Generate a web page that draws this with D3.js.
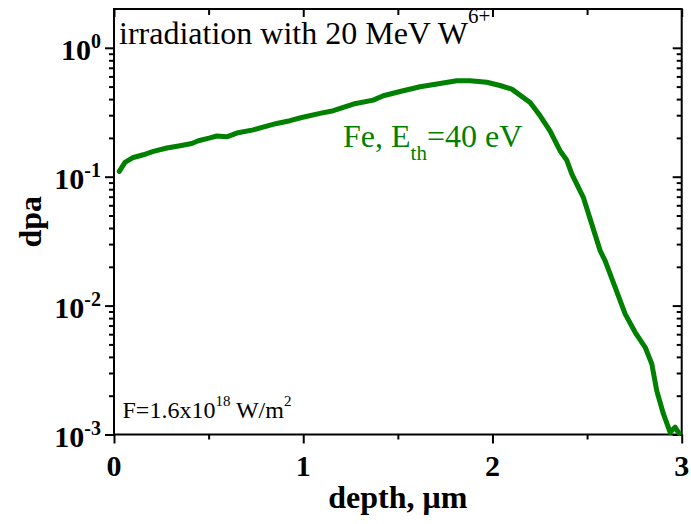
<!DOCTYPE html>
<html>
<head>
<meta charset="utf-8">
<script src="https://cdn.jsdelivr.net/npm/d3@7"></script>
<style>
  html, body { margin: 0; padding: 0; background: #fff; }
  svg { display: block; }
  text { font-family: "Liberation Serif", "Times New Roman", serif; }
</style>
</head>
<body>
<svg id="chart" width="691" height="524"></svg>
<script>
// ---- data ----
const depth = [0.028, 0.058, 0.102, 0.155, 0.208, 0.279, 0.349, 0.411, 0.446, 0.507,
  0.543, 0.596, 0.649, 0.736, 0.807, 0.860, 0.930, 0.992, 1.089, 1.159,
  1.265, 1.370, 1.423, 1.512, 1.617, 1.723, 1.811, 1.882, 1.970, 2.040,
  2.102, 2.199, 2.252, 2.304, 2.357, 2.393, 2.419, 2.480, 2.569, 2.595,
  2.648, 2.701, 2.754, 2.807, 2.842, 2.868, 2.903, 2.939, 2.965, 2.986];
const dpa = [0.110, 0.129, 0.141, 0.148, 0.157, 0.167, 0.174, 0.181, 0.190, 0.200,
  0.207, 0.204, 0.218, 0.231, 0.247, 0.259, 0.272, 0.288, 0.310, 0.325,
  0.366, 0.393, 0.425, 0.458, 0.499, 0.529, 0.555, 0.555, 0.540, 0.510,
  0.478, 0.377, 0.297, 0.227, 0.159, 0.134, 0.105, 0.0692, 0.0267, 0.0223,
  0.0139, 0.00862, 0.00621, 0.00475, 0.00353, 0.00219, 0.00145, 0.00104, 0.00114, 0.00102];
const xTicks = [0, 1, 2, 3];
const xMinorTicks = [0.5, 1.5, 2.5];
const yTickExponents = [0, -1, -2, -3];
const xLabel = "depth, μm";
const yLabel = "dpa";

// ---- layout ----
const pL = 114, pR = 681.7, pT = 9, pB = 434.5;
const svg = d3.select("#chart");
const x = d3.scaleLinear().domain([0, 3]).range([pL, pR]);
const y = d3.scaleLog().domain([1e-3, 2]).range([pB, pT]);

const yMajor = yTickExponents.map(e => Math.pow(10, e));
const yMinor = [];
yTickExponents.forEach(e => {
  for (let m = 2; m <= 9; m++) {
    const v = m * Math.pow(10, e);
    if (v < 2) yMinor.push(v);
  }
});

function styleAxis(g) {
  g.select(".domain").remove();
  g.selectAll(".tick line").attr("stroke", "#000").attr("stroke-width", 2);
  g.selectAll(".tick text").remove();
}

// left (outward)
svg.append("g").attr("transform", `translate(${pL},0)`)
  .call(d3.axisLeft(y).tickValues(yMajor).tickSize(9)).call(styleAxis);
svg.append("g").attr("transform", `translate(${pL},0)`)
  .call(d3.axisLeft(y).tickValues(yMinor).tickSize(5)).call(styleAxis);
// right (inward)
svg.append("g").attr("transform", `translate(${pR},0)`)
  .call(d3.axisLeft(y).tickValues(yMajor).tickSize(9)).call(styleAxis);
svg.append("g").attr("transform", `translate(${pR},0)`)
  .call(d3.axisLeft(y).tickValues(yMinor).tickSize(5)).call(styleAxis);
// bottom (outward)
svg.append("g").attr("transform", `translate(0,${pB})`)
  .call(d3.axisBottom(x).tickValues(xTicks).tickSize(9)).call(styleAxis);
svg.append("g").attr("transform", `translate(0,${pB})`)
  .call(d3.axisBottom(x).tickValues(xMinorTicks).tickSize(5)).call(styleAxis);
// top (inward)
svg.append("g").attr("transform", `translate(0,${pT})`)
  .call(d3.axisBottom(x).tickValues(xTicks).tickSize(8)).call(styleAxis);
svg.append("g").attr("transform", `translate(0,${pT})`)
  .call(d3.axisBottom(x).tickValues(xMinorTicks).tickSize(6)).call(styleAxis);

// frame
svg.append("rect").attr("x", pL).attr("y", pT)
  .attr("width", pR - pL).attr("height", pB - pT)
  .attr("fill", "none").attr("stroke", "#000").attr("stroke-width", 2);

// x tick labels
svg.append("g").selectAll("text").data(xTicks).join("text")
  .attr("x", d => x(d)).attr("y", pB + 41)
  .attr("text-anchor", "middle").attr("font-size", 30).attr("font-weight", "bold")
  .text(d => d);

// y tick labels 10^e
yTickExponents.forEach(e => {
  const t = svg.append("text")
    .attr("x", 101).attr("y", y(Math.pow(10, e)) + 12.5)
    .attr("text-anchor", "end").attr("font-size", 30).attr("font-weight", "bold");
  t.append("tspan").text("10");
  t.append("tspan").attr("dy", -12).attr("font-size", 20).text(e === 0 ? "0" : "-" + (-e));
});

// axis titles
svg.append("text").attr("x", (pL + pR) / 2).attr("y", 508)
  .attr("text-anchor", "middle").attr("font-size", 32).attr("font-weight", "bold")
  .text(xLabel);
svg.append("text").attr("transform", `translate(41,${(pT + pB) / 2}) rotate(-90)`)
  .attr("text-anchor", "middle").attr("font-size", 32).attr("font-weight", "bold")
  .text(yLabel);

// curve
const line = d3.line().x((d, i) => x(depth[i])).y((d, i) => y(dpa[i]));
svg.append("path").datum(dpa).attr("d", line)
  .attr("fill", "none").attr("stroke", "#008000").attr("stroke-width", 5)
  .attr("stroke-linejoin", "round").attr("stroke-linecap", "round");

// annotations
const t1 = svg.append("text").attr("x", 119).attr("y", 43.5).attr("font-size", 32).attr("fill", "#000");
t1.append("tspan").text("irradiation with 20 MeV W");
t1.append("tspan").attr("dy", -21).attr("font-size", 21).text("6+");

const t2 = svg.append("text").attr("x", 343).attr("y", 146.5).attr("font-size", 32).attr("fill", "#008000");
t2.append("tspan").text("Fe, E");
t2.append("tspan").attr("dy", 13).attr("font-size", 21).text("th");
t2.append("tspan").attr("dy", -13).text("=40 eV");

const t3 = svg.append("text").attr("x", 122.5).attr("y", 417.5).attr("font-size", 24).attr("fill", "#000");
t3.append("tspan").text("F=1.6x10");
t3.append("tspan").attr("dy", -12).attr("font-size", 15).text("18");
t3.append("tspan").attr("dy", 12).text(" W/m");
t3.append("tspan").attr("dy", -12).attr("font-size", 15).text("2");
</script>
</body>
</html>
